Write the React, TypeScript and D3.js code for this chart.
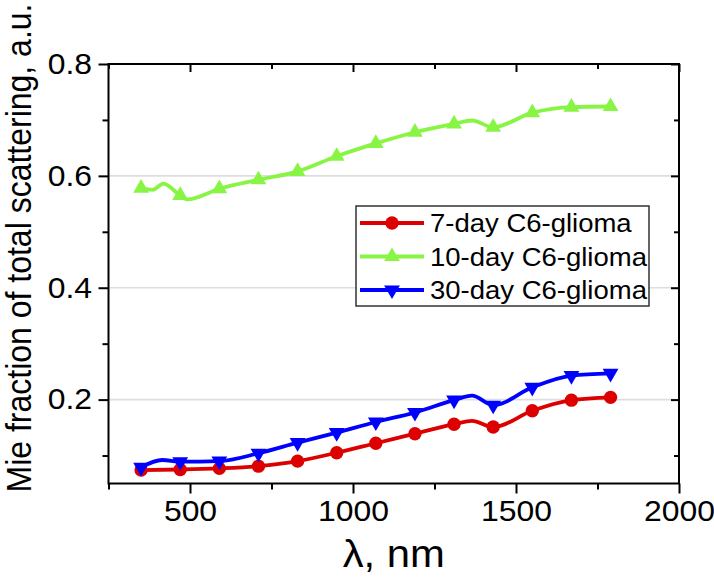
import React, { useEffect, useRef } from 'react'
import * as d3 from 'd3'

// wavelengths where markers are drawn, nm
const lambda = [350, 470, 590, 710, 830, 950, 1070, 1190, 1310, 1430, 1550, 1670, 1790]

const day7 = [0.074, 0.075, 0.077, 0.081, 0.090, 0.105, 0.122, 0.139, 0.156, 0.151, 0.180, 0.199, 0.204]
const day10 = [0.578, 0.565, 0.577, 0.593, 0.608, 0.635, 0.658, 0.678, 0.693, 0.687, 0.713, 0.723, 0.724]
const day30 = [0.079, 0.089, 0.090, 0.104, 0.123, 0.141, 0.160, 0.177, 0.199, 0.190, 0.222, 0.243, 0.247]

// extra points where the smoothed curves bend between markers
const bend7 = [[1365, 0.162]]
const bend10 = [[385, 0.575], [418, 0.586], [492, 0.558], [1365, 0.699]]
const bend30 = [[415, 0.092], [1365, 0.207]]

const names = ['7-day C6-glioma', '10-day C6-glioma', '30-day C6-glioma']
const colors = ['#dd0000', '#88f544', '#0000ff']

const xTicks = [500, 1000, 1500, 2000]
const xMinor = [250, 750, 1250, 1750]
const yTicks = [0.2, 0.4, 0.6, 0.8]
const yMinor = [0.1, 0.3, 0.5, 0.7]

const FONT = 'Liberation Sans, Arial, sans-serif'
const STRETCH = 'scale(1.1,1)'

const Chart = () => {
    const svgRef = useRef(null)

    useEffect(() => {
        const svg = d3.select(svgRef.current)
        svg.selectAll('*').remove()

        const width = 714
        const height = 581
        const left = 108.5, right = 679, top = 64, bottom = 483.5

        const x = d3.scaleLinear().domain([250, 2000]).range([left, right])
        const y = d3.scaleLinear().domain([0.05, 0.8]).range([bottom, top])

        svg.attr('width', width).attr('height', height)
            .style('position', 'absolute').style('left', 0).style('top', 0)
            .style('background', '#fff')

        // grid
        svg.append('g').selectAll('line')
            .data(yTicks.slice(0, 3))
            .join('line')
            .attr('x1', left).attr('x2', right)
            .attr('y1', d => y(d)).attr('y2', d => y(d))
            .attr('stroke', '#dedede').attr('stroke-width', 1.6)

        const styleAxis = (g, size) => {
            g.select('.domain').remove()
            g.selectAll('line').attr('stroke', '#000').attr('stroke-width', 2)
            g.selectAll('text').attr('font-size', size).attr('font-family', FONT)
                .attr('fill', '#000').attr('transform', STRETCH)
        }

        // bottom
        svg.append('g').attr('transform', `translate(0,${bottom})`)
            .call(d3.axisBottom(x).tickValues(xTicks).tickSize(10).tickPadding(7).tickFormat(d3.format('d')))
            .call(g => styleAxis(g, 29))
        svg.append('g').attr('transform', `translate(0,${bottom})`)
            .call(d3.axisBottom(x).tickValues(xMinor).tickSize(6).tickFormat(() => ''))
            .call(g => styleAxis(g, 29))
        // top, inward
        svg.append('g').attr('transform', `translate(0,${top})`)
            .call(d3.axisBottom(x).tickValues(xTicks).tickSize(8).tickFormat(() => ''))
            .call(g => styleAxis(g, 29))
        svg.append('g').attr('transform', `translate(0,${top})`)
            .call(d3.axisBottom(x).tickValues(xMinor).tickSize(5).tickFormat(() => ''))
            .call(g => styleAxis(g, 29))
        // left
        svg.append('g').attr('transform', `translate(${left},0)`)
            .call(d3.axisLeft(y).tickValues(yTicks).tickSize(10).tickPadding(5).tickFormat(d3.format('.1f')))
            .call(g => styleAxis(g, 29))
        svg.append('g').attr('transform', `translate(${left},0)`)
            .call(d3.axisLeft(y).tickValues(yMinor).tickSize(6).tickFormat(() => ''))
            .call(g => styleAxis(g, 29))
        // right, inward
        svg.append('g').attr('transform', `translate(${right},0)`)
            .call(d3.axisLeft(y).tickValues(yTicks).tickSize(8).tickFormat(() => ''))
            .call(g => styleAxis(g, 29))
        svg.append('g').attr('transform', `translate(${right},0)`)
            .call(d3.axisLeft(y).tickValues(yMinor).tickSize(5).tickFormat(() => ''))
            .call(g => styleAxis(g, 29))

        // frame
        svg.append('rect')
            .attr('x', left).attr('y', top)
            .attr('width', right - left).attr('height', bottom - top)
            .attr('fill', 'none').attr('stroke', '#000').attr('stroke-width', 2)

        // titles
        svg.append('text')
            .attr('transform', `translate(${(left + right) / 2},567) ${STRETCH}`)
            .attr('text-anchor', 'middle')
            .attr('font-family', FONT).attr('font-size', 38)
            .text('λ, nm')
        svg.append('text')
            .attr('transform', `translate(31,248) ${STRETCH} rotate(-90)`)
            .attr('text-anchor', 'middle')
            .attr('font-family', FONT).attr('font-size', 32)
            .text('Mie fraction of total scattering, a.u.')

        const series = [day7, day10, day30]
        const bends = [bend7, bend10, bend30]
        const line = d3.line().x(d => x(d[0])).y(d => y(d[1])).curve(d3.curveMonotoneX)

        const markerPath = i => {
            if (i === 0) return d3.symbol(d3.symbolCircle, 140)()
            return d3.symbol(d3.symbolTriangle, 108)()
        }
        const markerTurn = i => (i === 2 ? ' rotate(180)' : '')

        series.forEach((vals, i) => {
            const pts = lambda.map((l, k) => [l, vals[k]]).concat(bends[i]).sort((a, b) => a[0] - b[0])
            svg.append('path')
                .attr('d', line(pts))
                .attr('fill', 'none')
                .attr('stroke', colors[i])
                .attr('stroke-width', 3.8)
                .attr('stroke-linejoin', 'round')

            svg.append('g').selectAll('path')
                .data(lambda.map((l, k) => [l, vals[k]]))
                .join('path')
                .attr('d', markerPath(i))
                .attr('transform', d => `translate(${x(d[0])},${y(d[1])})${markerTurn(i)}`)
                .attr('fill', colors[i])
        })

        // legend
        const legend = svg.append('g')
        legend.append('rect')
            .attr('x', 356).attr('y', 206).attr('width', 293).attr('height', 100)
            .attr('fill', '#fff').attr('stroke', '#333').attr('stroke-width', 1.5)
        names.forEach((name, i) => {
            const cy = 223 + i * 33.5
            legend.append('line')
                .attr('x1', 360).attr('x2', 424).attr('y1', cy).attr('y2', cy)
                .attr('stroke', colors[i]).attr('stroke-width', 3.8)
            legend.append('path')
                .attr('d', markerPath(i))
                .attr('transform', `translate(392,${cy})${markerTurn(i)}`)
                .attr('fill', colors[i])
            legend.append('text')
                .attr('transform', `translate(430,${cy + 9}) ${STRETCH}`)
                .attr('font-family', FONT).attr('font-size', 25)
                .text(name)
        })
    }, [])

    return <svg ref={svgRef} />
}

export default function App() {
    return <Chart />
}
